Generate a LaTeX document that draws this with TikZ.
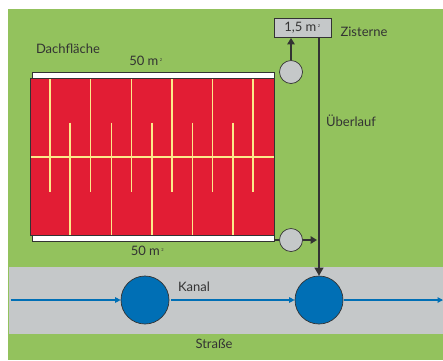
\documentclass[tikz,border=0pt]{standalone}
\usepackage{fontspec}
\setmainfont{Lato}
\usetikzlibrary{arrows.meta}
\definecolor{grn}{HTML}{93C25D}
\definecolor{rd}{HTML}{E21D34}
\definecolor{gy}{HTML}{C5C8C9}
\definecolor{bl}{HTML}{006FB5}
\definecolor{yl}{HTML}{FCE98A}
\definecolor{ink}{HTML}{333333}
\tikzset{
 x=1pt,y=-1pt,
 lbl/.style={text=ink,font=\fontsize{13}{14}\selectfont,inner sep=0pt,anchor=center},
 strip/.style={draw=ink,fill=white,line width=.7pt},
 pipe/.style={yl,line width=1.6pt},
 sump/.style={circle,draw=ink,fill=gy,line width=.7pt,minimum size=23pt,inner sep=0pt},
 shaft/.style={circle,draw=ink,fill=bl,line width=.7pt,minimum size=48pt,inner sep=0pt},
 darrow/.style={draw=ink,line width=1.6pt,-{Triangle[length=6.5pt,width=7.5pt]}},
 thinarrow/.style={draw=ink,line width=1.2pt,-{Triangle[length=8pt,width=9pt]}},
 barrow/.style={draw=bl,line width=1.1pt,-{Triangle[length=5.5pt,width=5.5pt]}},
}
\newcommand{\sq}{\textsuperscript{\,\fontsize{4}{4}\selectfont 2}}
\begin{document}
\begin{tikzpicture}
\useasboundingbox (0,0) rectangle (443,360);
\fill[grn] (8,9) rectangle (443,360);
\fill[gy] (9,267) rectangle (443,334);
\draw[strip] (32,72.5) rectangle (274.5,79);
\draw[strip] (32,234) rectangle (274.5,241);
\draw[draw=ink,fill=rd,line width=.8pt] (30.5,78.5) rectangle (274.5,235);
\foreach \x in {50,90.5,131.5,172,212.5,253} \draw[pipe] (\x,79) -- (\x,191.5);
\foreach \x in {70,111.5,152,192.5,233} \draw[pipe] (\x,122.5) -- (\x,234.5);
\draw[pipe] (31,157) -- (274,157);
\node[draw=ink,fill=gy,line width=.9pt,minimum width=57pt,minimum height=19pt,inner sep=0pt,lbl] (cistern) at (302.5,28) {1,5 m\sq};
\node[sump] (s1) at (291,72) {};
\node[sump] (s2) at (291,240) {};
\node[shaft] (k1) at (145,300) {};
\node[shaft] (k2) at (319,300) {};
\coordinate (over) at (319,37.5);
\coordinate (s2end) at (317,240);
\coordinate (b0) at (10.5,300);
\coordinate (b3a) at (171,300);
\coordinate (b3b) at (344,300);
\coordinate (b4) at (443,300);
\coordinate (rr) at (274.5,240);
\draw[draw=ink,line width=1.2pt] (rr) -- (s2);
\draw[darrow] (s1) -- (s1|-cistern.south);
\draw[darrow] (s2) -- (s2end);
\draw[thinarrow] (over) -- (k2);
\draw[barrow] (b0) -- (k1);
\draw[barrow] (b3a) -- (k2);
\draw[barrow] (b3b) -- (b4);
\node[lbl] (t1) at (68,49) {Dachfläche};
\node[lbl] (t2) at (146,61) {50 m\sq};
\node[lbl] (t3) at (147.5,251) {50 m\sq};
\node[lbl] (t4) at (364,31.5) {Zisterne};
\node[lbl] (t5) at (351,121) {Überlauf};
\node[lbl] (t6) at (194,287) {Kanal};
\node[lbl] (t7) at (214,344) {Straße};
\end{tikzpicture}
\end{document}
